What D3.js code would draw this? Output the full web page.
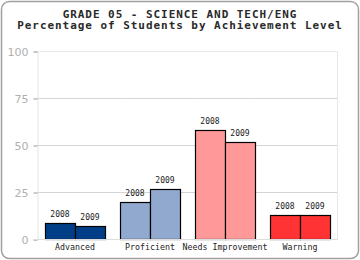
<!DOCTYPE html>
<html lang="en">
<head>
<meta charset="utf-8">
<title>Grade 05 Science</title>
<script src="https://d3js.org/d3.v7.min.js"></script>
<style>
  body { margin: 0; background: #fff; }
</style>
</head>
<body>
<script type="text/javascript">

// data
var levels = ["Advanced", "Proficient", "Needs Improvement", "Warning"];
var years = ["2008", "2009"];
var pct2008 = [9, 20, 58, 13];
var pct2009 = [7, 27, 52, 13];
var levelColors = ["#003f87", "#91a8cf", "#ff9999", "#ff3333"];
var yTicks = [0, 25, 50, 75, 100];

var width = 360,
    height = 260,
    plotLeft = 37.5,
    plotRight = 337.5,
    plotTop = 51.5,
    plotBottom = 239.5;

var svg = d3.select("body").append("svg")
    .attr("width", width)
    .attr("height", height);

// rounded frame
svg.append("rect")
    .attr("x", 1.5).attr("y", 1.5)
    .attr("width", width - 3).attr("height", height - 3)
    .attr("rx", 8).attr("ry", 8)
    .style("fill", "#fff")
    .style("stroke", "#a0a0a0")
    .style("stroke-width", 1.5);

// titles
var titles = ["GRADE 05 - SCIENCE AND TECH/ENG", "Percentage of Students by Achievement Level"];
svg.selectAll(".title")
    .data(titles)
    .enter().append("text")
    .attr("x", width / 2)
    .attr("y", function(d, i){ return 17.5 + i * 11.5; })
    .attr("text-anchor", "middle")
    .style("font-family", "'DejaVu Sans Mono', monospace")
    .style("font-weight", "bold")
    .style("font-size", "11px")
    .style("letter-spacing", "0.95px")
    .style("fill", "#2a2a2a")
    .text(function(d){ return d; });

// scales
var x = d3.scaleBand()
    .domain(levels)
    .range([plotLeft, plotRight])
    .paddingInner(0.2)
    .paddingOuter(0.1);

var xYear = d3.scaleBand()
    .domain(years)
    .range([0, x.bandwidth()]);

var y = d3.scaleLinear()
    .domain([0, 100])
    .range([plotBottom, plotTop]);

// grid
svg.selectAll(".grid")
    .data([25, 50, 75])
    .enter().append("line")
    .attr("x1", plotLeft).attr("x2", plotRight)
    .attr("y1", function(d){ return y(d); })
    .attr("y2", function(d){ return y(d); })
    .style("stroke", "#aaa")
    .style("stroke-dasharray", "1,1");

// plot box
svg.append("line").attr("x1", plotLeft).attr("x2", plotRight).attr("y1", plotTop).attr("y2", plotTop).style("stroke", "#e8e8e8");
svg.append("line").attr("x1", plotRight).attr("x2", plotRight).attr("y1", plotTop).attr("y2", plotBottom).style("stroke", "#e8e8e8");

// y axis
var yAxis = d3.axisLeft(y)
    .tickValues(yTicks)
    .tickSize(4)
    .tickPadding(5);

var gy = svg.append("g")
    .attr("transform", "translate(" + plotLeft + ",0)")
    .call(yAxis);
gy.select(".domain").style("stroke", "#e4e4e4");
gy.selectAll(".tick line").style("stroke", "#999");
gy.selectAll(".tick text")
    .style("font-family", "Verdana, 'DejaVu Sans', sans-serif")
    .style("font-size", "11px")
    .style("fill", "#b0b0b0");

// bars
var rows = [];
levels.forEach(function(l, i){
    rows.push({level: l, year: "2008", val: pct2008[i], color: levelColors[i]});
    rows.push({level: l, year: "2009", val: pct2009[i], color: levelColors[i]});
});

svg.selectAll(".bar")
    .data(rows)
    .enter().append("rect")
    .attr("x", function(d){ return Math.round(x(d.level) + xYear(d.year)) + 0.5; })
    .attr("y", function(d){ return Math.round(y(d.val)) + 0.5; })
    .attr("width", xYear.bandwidth())
    .attr("height", function(d){ return plotBottom - Math.round(y(d.val)) - 0.5; })
    .style("fill", function(d){ return d.color; })
    .style("stroke", "#000")
    .style("stroke-width", 1.2);

svg.selectAll(".blabel")
    .data(rows)
    .enter().append("text")
    .attr("x", function(d){ return x(d.level) + xYear(d.year) + xYear.bandwidth() / 2; })
    .attr("y", function(d){ return y(d.val) - 6; })
    .attr("text-anchor", "middle")
    .style("font-family", "'DejaVu Sans Mono', monospace")
    .style("font-size", "8px")
    .style("fill", "#222")
    .text(function(d){ return d.year; });

// baseline
svg.append("line").attr("x1", plotLeft - 4).attr("x2", plotRight).attr("y1", plotBottom).attr("y2", plotBottom).style("stroke", "#ddd");

// x axis labels
svg.selectAll(".xlabel")
    .data(levels)
    .enter().append("text")
    .attr("x", function(d){ return x(d) + x.bandwidth() / 2; })
    .attr("y", 250)
    .attr("text-anchor", "middle")
    .style("font-family", "'DejaVu Sans Mono', monospace")
    .style("font-size", "8.3px")
    .style("fill", "#222")
    .text(function(d){ return d; });

</script>
</body>
</html>
